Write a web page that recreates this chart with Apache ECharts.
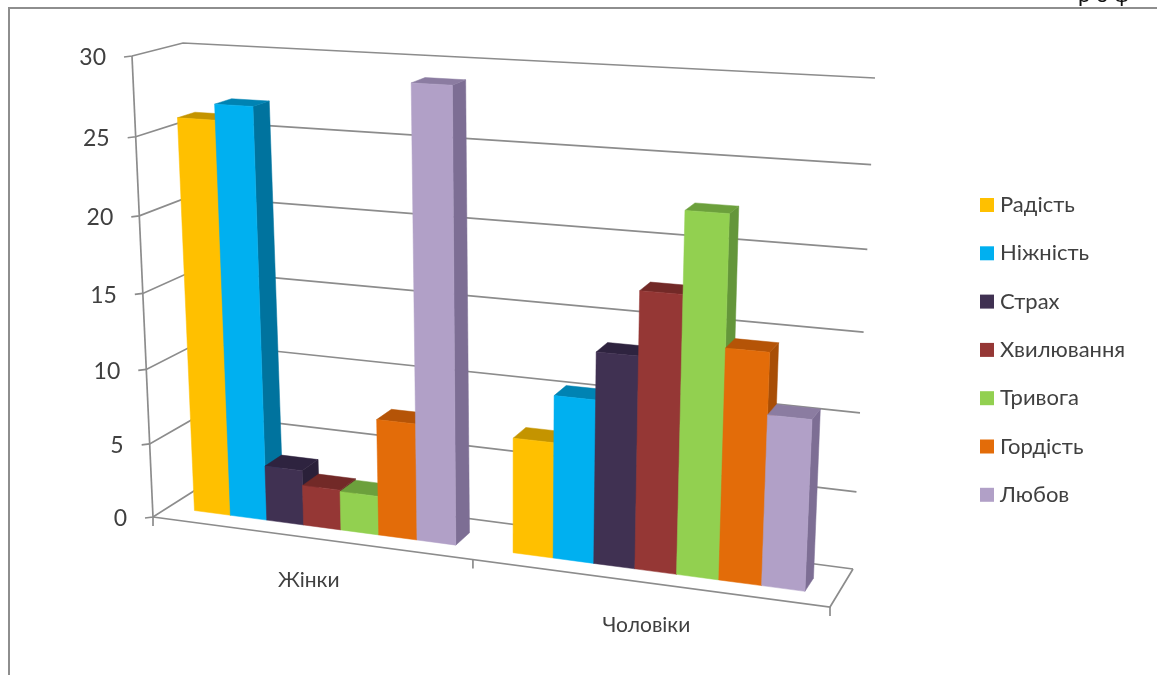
<!DOCTYPE html>
<html>
<head>
<meta charset="utf-8">
<style>html,body{margin:0;padding:0;background:#fff}#chart{width:1157px;height:675px}</style>
<script src="https://cdn.jsdelivr.net/npm/echarts@6/dist/echarts.min.js"></script>
</head>
<body>
<div id="chart"></div>
<script>
// Values per emotion: [Жінки, Чоловіки]
const categories = ['Жінки', 'Чоловіки'];
const emotionNames = ['Радість', 'Ніжність', 'Страх', 'Хвилювання', 'Тривога', 'Гордість', 'Любов'];
const joy = [26, 7.5];
const tenderness = [27, 10.5];
const fear = [3.7, 13.5];
const worry = [2.7, 17.5];
const anxiety = [2.6, 22.5];
const pride = [7.7, 14.5];
const love = [29, 10.7];
const emotionValues = [joy, tenderness, fear, worry, anxiety, pride, love];
const valueTicks = [0, 5, 10, 15, 20, 25, 30];

// Face colours: front, top, side
const frontColors = ['#FFC000', '#00B0F0', '#403152', '#953735', '#92D050', '#E36C09', '#B1A0C7'];
const topColors = ['#C49400', '#0083B3', '#2E233F', '#722927', '#6CA03C', '#B55407', '#8B7CA1'];
const sideColors = ['#B88B00', '#00739E', '#2A2039', '#682523', '#64963A', '#A84E06', '#7D6E94'];

const lineColor = '#8C8C8C';
const textColor = '#404040';
const font = 'Lato, "Noto Sans", sans-serif';

// Perspective view: the plot plane is mapped onto a near and a far quadrilateral
function quadMap(p0, p1, p2, p3) {
  const dx1 = p1[0] - p2[0], dx2 = p3[0] - p2[0], sx = p0[0] - p1[0] + p2[0] - p3[0];
  const dy1 = p1[1] - p2[1], dy2 = p3[1] - p2[1], sy = p0[1] - p1[1] + p2[1] - p3[1];
  const det = dx1 * dy2 - dx2 * dy1;
  const g = (sx * dy2 - dx2 * sy) / det, h = (dx1 * sy - sx * dy1) / det;
  const a = p1[0] - p0[0] + g * p1[0], b = p3[0] - p0[0] + h * p3[0], c = p0[0];
  const d = p1[1] - p0[1] + g * p1[1], e = p3[1] - p0[1] + h * p3[1], f = p0[1];
  return (u, v) => {
    const w = g * u + h * v + 1;
    return [(a * u + b * v + c) / w, (d * u + e * v + f) / w];
  };
}
const nearPlane = quadMap([153, 517], [830, 607], [853.5, 95], [132, 56]);
const farPlane = quadMap([205, 484], [853, 569], [875, 78], [183, 43]);

function project(u, v, depth) {
  const n = nearPlane(u, v), f = farPlane(u, v);
  return [n[0] + (f[0] - n[0]) * depth, n[1] + (f[1] - n[1]) * depth];
}
// Pixel position in the flat grid -> position in the perspective view
function fromGrid(cs, pt, depth) {
  return project((pt[0] - cs.x) / cs.width, (cs.y + cs.height - pt[1]) / cs.height, depth);
}

const groupFill = 0.828;
const barFill = groupFill / emotionNames.length;
const barNear = 0.3, barFar = 0.65;

function face(points, color) {
  return {
    type: 'polygon', shape: { points },
    style: { fill: color, stroke: color, lineWidth: 0.5 }, silent: true
  };
}

function barRenderer(idx) {
  return function (params, api) {
    const cs = params.coordSys;
    const cat = api.value(0), val = api.value(1);
    const band = api.size([1, 0])[0];
    const top = api.coord([cat, val]), base = api.coord([cat, 0]);
    const x0 = base[0] + band * (-groupFill / 2 + idx * barFill);
    const x1 = x0 + band * barFill;
    const P = (x, y, d) => fromGrid(cs, [x, y], d);
    return {
      type: 'group',
      children: [
        face([P(x1, base[1], barNear), P(x1, base[1], barFar), P(x1, top[1], barFar), P(x1, top[1], barNear)], sideColors[idx]),
        face([P(x0, top[1], barNear), P(x1, top[1], barNear), P(x1, top[1], barFar), P(x0, top[1], barFar)], topColors[idx]),
        face([P(x0, base[1], barNear), P(x1, base[1], barNear), P(x1, top[1], barNear), P(x0, top[1], barNear)], frontColors[idx])
      ]
    };
  };
}

function stroke(points) {
  return {
    type: 'polyline', shape: { points },
    style: { stroke: lineColor, lineWidth: 1.7, fill: 'none' }, silent: true
  };
}

// Gridlines, left side wall, tick marks and value labels
function wallRenderer(params, api) {
  const cs = params.coordSys;
  const tick = api.value(1);
  const py = api.coord([0, tick])[1];
  const xL = cs.x, xR = cs.x + cs.width;
  const a = fromGrid(cs, [xL, py], 0), b = fromGrid(cs, [xL, py], 1), c = fromGrid(cs, [xR, py], 1);
  const children = [
    stroke([[a[0] - 8, a[1] + 1], a, b, c]),
    {
      type: 'text', silent: true,
      style: {
        x: a[0] - 26, y: a[1] + 2, text: String(tick), fill: textColor,
        font: '23px ' + font, textAlign: 'right', textVerticalAlign: 'middle'
      }
    }
  ];
  if (tick === valueTicks[0]) {
    const fr = fromGrid(cs, [xR, py], 0);
    const mid = fromGrid(cs, [(xL + xR) / 2, py], 0);
    children.push(stroke([a, fr, c]));
    children.push(stroke([a, [a[0], a[1] + 9]]));
    children.push(stroke([mid, [mid[0], mid[1] + 9]]));
    children.push(stroke([fr, [fr[0], fr[1] + 9]]));
  }
  if (tick === valueTicks[valueTicks.length - 1]) {
    const bottom = fromGrid(cs, [xL, api.coord([0, 0])[1]], 0);
    children.push(stroke([a, bottom]));
  }
  return { type: 'group', children };
}

// Category names under the floor
function categoryRenderer(params, api) {
  const cs = params.coordSys;
  const pt = fromGrid(cs, api.coord([api.value(0), 0]), 0);
  return {
    type: 'text', silent: true,
    style: {
      x: pt[0], y: pt[1] + 43, text: categories[api.value(0)], fill: textColor,
      font: '21px ' + font, textAlign: 'center', textVerticalAlign: 'middle'
    }
  };
}

const chart = echarts.init(document.getElementById('chart'), null, { renderer: 'canvas' });
chart.setOption({
  animation: false,
  backgroundColor: '#fff',
  tooltip: { show: false },
  grid: { left: 153, top: 56, width: 677, height: 461 },
  xAxis: { type: 'category', data: categories, show: false },
  yAxis: { type: 'value', min: 0, max: 30, interval: 5, show: false },
  legend: {
    orient: 'vertical', left: 975, top: 189, itemWidth: 14, itemHeight: 14, itemGap: 26.3,
    icon: 'rect', selectedMode: false, data: emotionNames,
    textStyle: { fontFamily: font, fontSize: 22, color: textColor, padding: [0, 0, 0, 1] }
  },
  graphic: [
    {
      type: 'polyline', silent: true, z: 0,
      shape: { points: [[9, 675], [9, 8], [1157, 8]] },
      style: { stroke: '#8E8E8E', lineWidth: 2, fill: 'none' }
    },
    {
      type: 'text', silent: true, z: 0, x: 1078, y: -16,
      style: { text: 'р о ф', fill: '#111', font: '22px ' + font }
    }
  ],
  series: [
    {
      type: 'custom', silent: true, renderItem: wallRenderer, clip: false,
      encode: { x: 0, y: 1 }, data: valueTicks.map(t => [0, t])
    },
    {
      type: 'custom', silent: true, renderItem: categoryRenderer, clip: false,
      encode: { x: 0, y: 1 }, data: categories.map((c, i) => [i, 0])
    }
  ].concat(emotionNames.map((name, i) => ({
    type: 'custom', name, silent: true, renderItem: barRenderer(i), clip: false,
    itemStyle: { color: frontColors[i] },
    encode: { x: 0, y: 1 },
    data: emotionValues[i].map((v, c) => [c, v])
  })))
});
</script>
</body>
</html>
